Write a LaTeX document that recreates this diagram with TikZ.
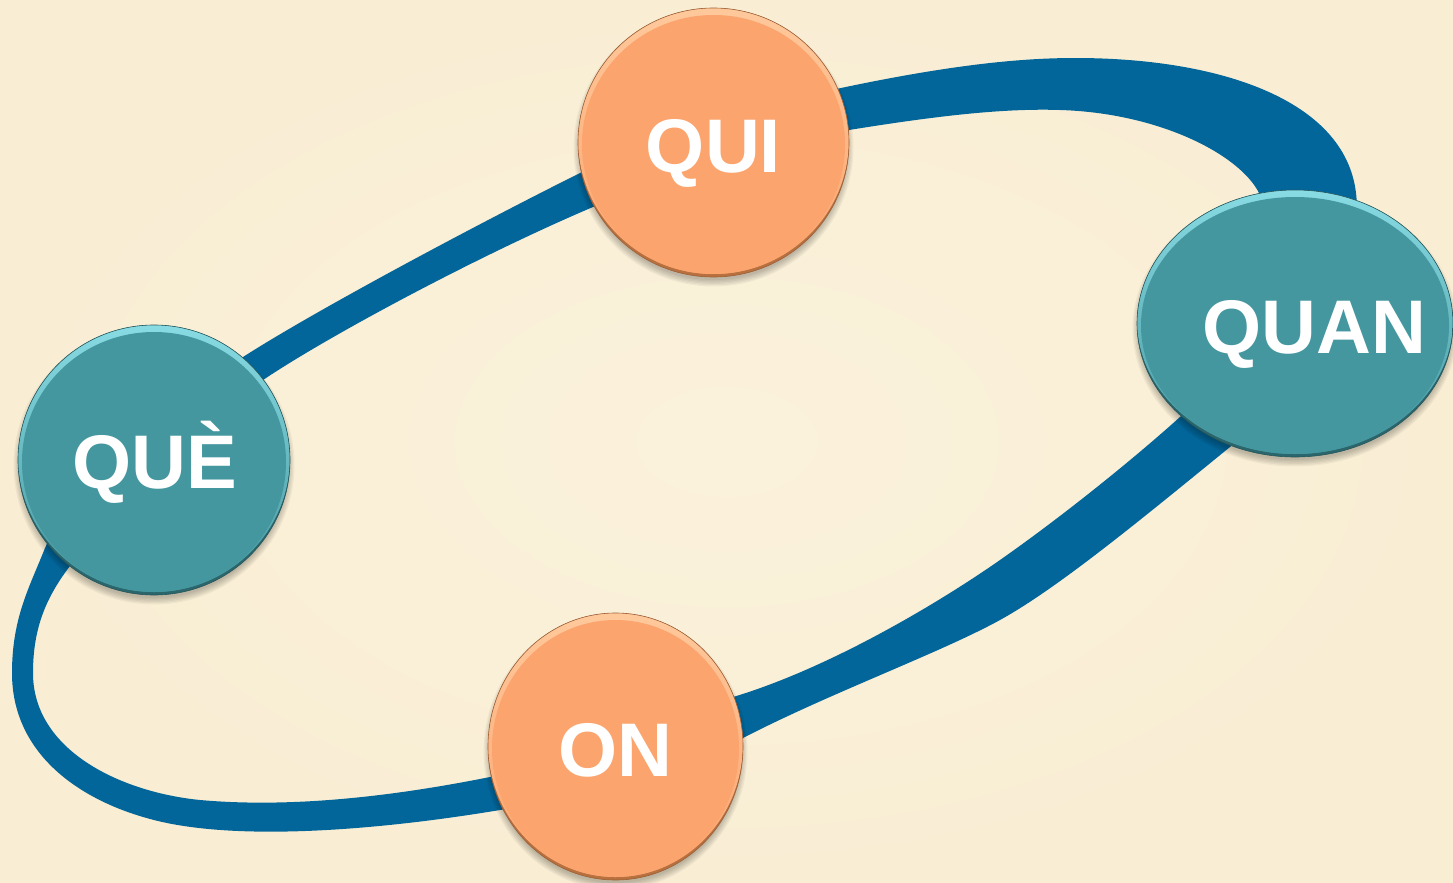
\documentclass[tikz,border=0pt]{standalone}
\usepackage{fontspec}
\setmainfont{Liberation Sans}
\usetikzlibrary{shapes.geometric}
\definecolor{bg}{HTML}{FBF2DC}
\definecolor{bgedge}{HTML}{F9EED4}
\definecolor{band}{HTML}{03669A}
\definecolor{orbase}{HTML}{FBA46E}
\definecolor{orlight}{HTML}{FFC99C}
\definecolor{ordark}{HTML}{B8703F}
\definecolor{tlbase}{HTML}{45979F}
\definecolor{tllight}{HTML}{8ADCE4}
\definecolor{tldark}{HTML}{2B666C}
% #1 name, #2 x, #3 y, #4 rx, #5 ry, #6 base, #7 light, #8 dark
\newcommand\mybubble[8]{%
  \foreach \k in {0,1,2,3,4,5}{%
    \fill[black,opacity=0.045] (#2,#3+5) ellipse [x radius={#4pt+\k*1.3pt-2pt}, y radius={#5pt+\k*1.3pt-2pt}];}
  \node[bubble, minimum width={2*#4pt}, minimum height={2*#5pt}, fill=#8, draw=#8!85!black,
    path picture={
      \shade[top color=#7, bottom color=#6] ([yshift=3pt]path picture bounding box.center) ellipse [x radius={#4pt}, y radius={#5pt}];
      \fill[#6] ([yshift=-2pt]path picture bounding box.center) ellipse [x radius={#4pt-4pt}, y radius={#5pt-5pt}];
    }] (#1) at (#2,#3) {};
}
\begin{document}
\begin{tikzpicture}[x=1pt,y=-1pt,
  bubble/.style={ellipse, inner sep=0pt, line width=0.6pt},
  word/.style={text=white, font=\fontsize{76}{80}\selectfont\bfseries, inner sep=0pt, anchor=base}]
\useasboundingbox (0,0) rectangle (1453,883);
\shade[inner color=bg, outer color=bgedge] (0,0) rectangle (1453,883);
% the ribbon loop: outer edge, then inner edge
\fill[band, even odd rule]
  (243,357) .. controls (313,312) and (470,228) .. (580,173)
  .. controls (650,138) and (760,104) .. (841,88)
  .. controls (950,65) and (1020,58) .. (1075,58)
  .. controls (1220,58) and (1345,100) .. (1356,193)
  .. controls (1365,267) and (1308,383) .. (1230,447)
  .. controls (1150,512) and (1060,587) .. (1000,620)
  .. controls (940,653) and (830,693) .. (743,738)
  .. controls (690,765) and (560,800) .. (500,810)
  .. controls (380,830) and (250,840) .. (167,823)
  .. controls (90,807) and (12,760) .. (12,673)
  .. controls (12,620) and (28,590) .. (43,553)
  .. controls (80,460) and (173,402) .. (243,357) -- cycle
  (263,380) .. controls (330,335) and (480,255) .. (593,207)
  .. controls (680,170) and (770,142) .. (849,130)
  .. controls (930,117) and (1000,108) .. (1060,110)
  .. controls (1160,113) and (1240,155) .. (1259,193)
  .. controls (1278,250) and (1230,372) .. (1180,417)
  .. controls (1130,462) and (1060,518) .. (1000,560)
  .. controls (940,602) and (830,668) .. (733,697)
  .. controls (660,727) and (560,760) .. (490,777)
  .. controls (390,797) and (290,808) .. (200,800)
  .. controls (120,792) and (33,750) .. (33,673)
  .. controls (33,630) and (45,600) .. (67,570)
  .. controls (110,510) and (190,430) .. (263,380) -- cycle;
% bubbles
\mybubble{qui}{713.5}{142.5}{135.5}{134.5}{orbase}{orlight}{ordark}
\mybubble{quan}{1295}{323.5}{158}{133.5}{tlbase}{tllight}{tldark}
\mybubble{que}{154}{460}{136}{135}{tlbase}{tllight}{tldark}
\mybubble{on}{615.5}{746.5}{127.5}{133.5}{orbase}{orlight}{ordark}
% labels
\node[word] (quitext) at (713.5,172) {QUI};
\node[word] (quantext) at (1314,353) {QUAN};
\node[word] (quetext) at (154.5,488) {QUÈ};
\node[word] (ontext) at (615.5,776) {ON};
\end{tikzpicture}
\end{document}
